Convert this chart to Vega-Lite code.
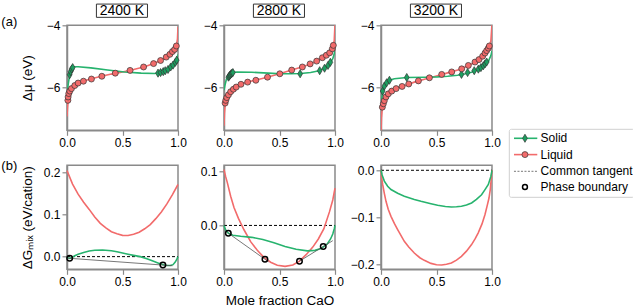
{
 "$schema": "https://vega.github.io/schema/vega-lite/v6.json",
 "background": "white",
 "padding": {"left": 0, "top": 2.3, "right": 0, "bottom": 0},
 "bounds": "flush",
 "columns": 3,
 "spacing": {"row": 35, "column": 46},
 "concat": [
  {
   "width": 111, "height": 105,
   "layer": [
    {"data": {"values": [{}]}, "mark": {"type": "rect", "filled": false, "stroke": "#333333", "strokeWidth": 1, "clip": false}, "encoding": {"x": {"datum": 0.265, "type": "quantitative"}, "x2": {"datum": 0.725}, "y": {"datum": -3.742, "type": "quantitative"}, "y2": {"datum": -3.313}}},
    {"data": {"values": [{}]}, "mark": {"type": "text", "text": "2400 K", "fontSize": 14, "baseline": "middle", "align": "center", "clip": false}, "encoding": {"x": {"datum": 0.495, "type": "quantitative"}, "y": {"datum": -3.526, "type": "quantitative"}}},
    {"data": {"values": [{}]}, "mark": {"type": "text", "text": "(a)", "fontSize": 13, "baseline": "middle", "align": "center", "clip": false}, "encoding": {"x": {"datum": -0.52, "type": "quantitative"}, "y": {"datum": -3.9, "type": "quantitative"}}},
    {"data": {"values": [{"x":0,"y":-6.95},{"x":0.004,"y":-6.7},{"x":0.01,"y":-6.45},{"x":0.02,"y":-6.22},{"x":0.035,"y":-6.08},{"x":0.06,"y":-5.97},{"x":0.1,"y":-5.88},{"x":0.15,"y":-5.8},{"x":0.22,"y":-5.73},{"x":0.3,"y":-5.66},{"x":0.4,"y":-5.58},{"x":0.5,"y":-5.51},{"x":0.6,"y":-5.43},{"x":0.7,"y":-5.34},{"x":0.78,"y":-5.24},{"x":0.85,"y":-5.13},{"x":0.9,"y":-5.03},{"x":0.94,"y":-4.91},{"x":0.97,"y":-4.79},{"x":0.985,"y":-4.66},{"x":0.995,"y":-4.45},{"x":1,"y":-4.05}]},
     "mark": {"type": "line", "color": "#f26b6b", "strokeWidth": 1.6, "clip": true},
     "encoding": {"x": {"field": "x", "type": "quantitative", "scale": {"domain": [0, 1], "nice": false, "zero": false}, "axis": {"values": [0, 0.5, 1], "format": ".1f", "title": null}},
      "y": {"field": "y", "type": "quantitative", "scale": {"domain": [-7.4, -4], "nice": false, "zero": false}, "axis": {"values": [-6, -4], "format": "d", "title": "Δμ (eV)", "titleX": -40, "titleY": 52.5, "titleAngle": 270, "titleAlign": "center", "titleBaseline": "middle"}}}},
    {"data": {"values": [{"x":0,"y":-6.25},{"x":0.008,"y":-5.98},{"x":0.018,"y":-5.74},{"x":0.03,"y":-5.52},{"x":0.045,"y":-5.4},{"x":0.065,"y":-5.34},{"x":0.1,"y":-5.34},{"x":0.215,"y":-5.38},{"x":0.366,"y":-5.45},{"x":0.517,"y":-5.51},{"x":0.668,"y":-5.55},{"x":0.789,"y":-5.56},{"x":0.849,"y":-5.52},{"x":0.909,"y":-5.43},{"x":0.955,"y":-5.29},{"x":0.985,"y":-5.15},{"x":1,"y":-4.94}]},
     "mark": {"type": "line", "color": "#27b36e", "strokeWidth": 1.6, "clip": true},
     "encoding": {"x": {"field": "x", "type": "quantitative"}, "y": {"field": "y", "type": "quantitative"}}},
    {"data": {"values": [{"x":0.024,"y":-5.6},{"x":0.033,"y":-5.5},{"x":0.042,"y":-5.42},{"x":0.051,"y":-5.37},{"x":0.82,"y":-5.55},{"x":0.843,"y":-5.53},{"x":0.867,"y":-5.5},{"x":0.885,"y":-5.47},{"x":0.91,"y":-5.43},{"x":0.934,"y":-5.35},{"x":0.955,"y":-5.29},{"x":0.976,"y":-5.2},{"x":0.988,"y":-5.13}]},
     "mark": {"type": "point", "shape": "M0,-1.35L0.8,0L0,1.35L-0.8,0Z", "filled": true, "fill": "#1d9e60", "stroke": "#333333", "strokeWidth": 0.7, "size": 36, "opacity": 1},
     "encoding": {"x": {"field": "x", "type": "quantitative"}, "y": {"field": "y", "type": "quantitative"}}},
    {"data": {"values": [{"x":0.008,"y":-6.43},{"x":0.01,"y":-6.32},{"x":0.016,"y":-6.21},{"x":0.025,"y":-6.13},{"x":0.04,"y":-6.05},{"x":0.07,"y":-5.95},{"x":0.1,"y":-5.87},{"x":0.148,"y":-5.81},{"x":0.22,"y":-5.74},{"x":0.314,"y":-5.65},{"x":0.435,"y":-5.55},{"x":0.568,"y":-5.46},{"x":0.69,"y":-5.35},{"x":0.78,"y":-5.24},{"x":0.843,"y":-5.14},{"x":0.894,"y":-5.03},{"x":0.927,"y":-4.94},{"x":0.95,"y":-4.85},{"x":0.97,"y":-4.78},{"x":0.985,"y":-4.67}]},
     "mark": {"type": "point", "shape": "circle", "filled": true, "fill": "#f26b6b", "stroke": "#333333", "strokeWidth": 0.7, "size": 36, "opacity": 1},
     "encoding": {"x": {"field": "x", "type": "quantitative"}, "y": {"field": "y", "type": "quantitative"}}}
   ]
  },
  {
   "width": 111, "height": 105,
   "layer": [
    {"data": {"values": [{}]}, "mark": {"type": "rect", "filled": false, "stroke": "#333333", "strokeWidth": 1, "clip": false}, "encoding": {"x": {"datum": 0.265, "type": "quantitative"}, "x2": {"datum": 0.725}, "y": {"datum": -3.742, "type": "quantitative"}, "y2": {"datum": -3.313}}},
    {"data": {"values": [{}]}, "mark": {"type": "text", "text": "2800 K", "fontSize": 14, "baseline": "middle", "align": "center", "clip": false}, "encoding": {"x": {"datum": 0.495, "type": "quantitative"}, "y": {"datum": -3.526, "type": "quantitative"}}},
    {"data": {"values": [{"x":0,"y":-7.25},{"x":0.004,"y":-6.85},{"x":0.01,"y":-6.6},{"x":0.02,"y":-6.42},{"x":0.035,"y":-6.3},{"x":0.055,"y":-6.17},{"x":0.08,"y":-6.08},{"x":0.11,"y":-6.0},{"x":0.15,"y":-5.92},{"x":0.21,"y":-5.84},{"x":0.29,"y":-5.77},{"x":0.39,"y":-5.68},{"x":0.5,"y":-5.57},{"x":0.61,"y":-5.45},{"x":0.7,"y":-5.35},{"x":0.78,"y":-5.25},{"x":0.84,"y":-5.15},{"x":0.89,"y":-5.05},{"x":0.93,"y":-4.95},{"x":0.96,"y":-4.85},{"x":0.98,"y":-4.73},{"x":0.993,"y":-4.5},{"x":1,"y":-3.95}]},
     "mark": {"type": "line", "color": "#f26b6b", "strokeWidth": 1.6, "clip": true},
     "encoding": {"x": {"field": "x", "type": "quantitative", "scale": {"domain": [0, 1], "nice": false, "zero": false}, "axis": {"values": [0, 0.5, 1], "format": ".1f", "title": null}},
      "y": {"field": "y", "type": "quantitative", "scale": {"domain": [-7.4, -4], "nice": false, "zero": false}, "axis": {"values": [-6, -4], "format": "d", "title": null}}}},
    {"data": {"values": [{"x":0,"y":-6.1},{"x":0.008,"y":-5.95},{"x":0.02,"y":-5.77},{"x":0.035,"y":-5.65},{"x":0.055,"y":-5.57},{"x":0.08,"y":-5.52},{"x":0.12,"y":-5.51},{"x":0.25,"y":-5.52},{"x":0.4,"y":-5.55},{"x":0.51,"y":-5.57},{"x":0.6,"y":-5.57},{"x":0.69,"y":-5.56},{"x":0.78,"y":-5.53},{"x":0.846,"y":-5.48},{"x":0.9,"y":-5.4},{"x":0.937,"y":-5.31},{"x":0.96,"y":-5.21},{"x":0.98,"y":-5.08},{"x":0.995,"y":-4.9},{"x":1,"y":-4.78}]},
     "mark": {"type": "line", "color": "#27b36e", "strokeWidth": 1.6, "clip": true},
     "encoding": {"x": {"field": "x", "type": "quantitative"}, "y": {"field": "y", "type": "quantitative"}}},
    {"data": {"values": [{"x":0.04,"y":-5.68},{"x":0.046,"y":-5.65},{"x":0.052,"y":-5.62},{"x":0.058,"y":-5.6},{"x":0.065,"y":-5.57},{"x":0.072,"y":-5.55},{"x":0.08,"y":-5.53},{"x":0.686,"y":-5.57},{"x":0.862,"y":-5.47},{"x":0.906,"y":-5.39},{"x":0.937,"y":-5.3},{"x":0.958,"y":-5.2}]},
     "mark": {"type": "point", "shape": "M0,-1.35L0.8,0L0,1.35L-0.8,0Z", "filled": true, "fill": "#1d9e60", "stroke": "#333333", "strokeWidth": 0.7, "size": 36, "opacity": 1},
     "encoding": {"x": {"field": "x", "type": "quantitative"}, "y": {"field": "y", "type": "quantitative"}}},
    {"data": {"values": [{"x":0.01,"y":-6.52},{"x":0.016,"y":-6.43},{"x":0.025,"y":-6.34},{"x":0.04,"y":-6.25},{"x":0.06,"y":-6.15},{"x":0.085,"y":-6.07},{"x":0.11,"y":-6.0},{"x":0.153,"y":-5.91},{"x":0.213,"y":-5.84},{"x":0.287,"y":-5.78},{"x":0.392,"y":-5.68},{"x":0.503,"y":-5.57},{"x":0.61,"y":-5.45},{"x":0.706,"y":-5.35},{"x":0.776,"y":-5.25},{"x":0.835,"y":-5.16},{"x":0.886,"y":-5.05},{"x":0.922,"y":-4.97},{"x":0.952,"y":-4.89},{"x":0.976,"y":-4.76},{"x":0.985,"y":-4.65}]},
     "mark": {"type": "point", "shape": "circle", "filled": true, "fill": "#f26b6b", "stroke": "#333333", "strokeWidth": 0.7, "size": 36, "opacity": 1},
     "encoding": {"x": {"field": "x", "type": "quantitative"}, "y": {"field": "y", "type": "quantitative"}}}
   ]
  },
  {
   "width": 111, "height": 105,
   "layer": [
    {"data": {"values": [{}]}, "mark": {"type": "rect", "filled": false, "stroke": "#333333", "strokeWidth": 1, "clip": false}, "encoding": {"x": {"datum": 0.265, "type": "quantitative"}, "x2": {"datum": 0.725}, "y": {"datum": -3.742, "type": "quantitative"}, "y2": {"datum": -3.313}}},
    {"data": {"values": [{}]}, "mark": {"type": "text", "text": "3200 K", "fontSize": 14, "baseline": "middle", "align": "center", "clip": false}, "encoding": {"x": {"datum": 0.495, "type": "quantitative"}, "y": {"datum": -3.526, "type": "quantitative"}}},
    {"data": {"values": [{"x":0,"y":-7.5},{"x":0.004,"y":-7.0},{"x":0.01,"y":-6.76},{"x":0.02,"y":-6.55},{"x":0.035,"y":-6.38},{"x":0.06,"y":-6.24},{"x":0.1,"y":-6.12},{"x":0.15,"y":-6.03},{"x":0.2,"y":-5.97},{"x":0.3,"y":-5.84},{"x":0.4,"y":-5.74},{"x":0.5,"y":-5.64},{"x":0.6,"y":-5.54},{"x":0.7,"y":-5.44},{"x":0.78,"y":-5.32},{"x":0.85,"y":-5.19},{"x":0.9,"y":-5.07},{"x":0.94,"y":-4.91},{"x":0.97,"y":-4.74},{"x":0.99,"y":-4.5},{"x":1,"y":-3.95}]},
     "mark": {"type": "line", "color": "#f26b6b", "strokeWidth": 1.6, "clip": true},
     "encoding": {"x": {"field": "x", "type": "quantitative", "scale": {"domain": [0, 1], "nice": false, "zero": false}, "axis": {"values": [0, 0.5, 1], "format": ".1f", "title": null}},
      "y": {"field": "y", "type": "quantitative", "scale": {"domain": [-7.4, -4], "nice": false, "zero": false}, "axis": {"values": [-6, -4], "format": "d", "title": null}}}},
    {"data": {"values": [{"x":0,"y":-6.75},{"x":0.005,"y":-6.42},{"x":0.015,"y":-6.15},{"x":0.03,"y":-5.97},{"x":0.05,"y":-5.86},{"x":0.076,"y":-5.78},{"x":0.12,"y":-5.73},{"x":0.233,"y":-5.69},{"x":0.4,"y":-5.68},{"x":0.51,"y":-5.67},{"x":0.6,"y":-5.65},{"x":0.69,"y":-5.62},{"x":0.76,"y":-5.57},{"x":0.816,"y":-5.52},{"x":0.87,"y":-5.44},{"x":0.906,"y":-5.37},{"x":0.94,"y":-5.27},{"x":0.967,"y":-5.17},{"x":0.99,"y":-4.98},{"x":1,"y":-4.83}]},
     "mark": {"type": "line", "color": "#27b36e", "strokeWidth": 1.6, "clip": true},
     "encoding": {"x": {"field": "x", "type": "quantitative"}, "y": {"field": "y", "type": "quantitative"}}},
    {"data": {"values": [{"x":0.015,"y":-6.13},{"x":0.03,"y":-5.97},{"x":0.051,"y":-5.86},{"x":0.076,"y":-5.78},{"x":0.232,"y":-5.69},{"x":0.725,"y":-5.59},{"x":0.78,"y":-5.53},{"x":0.84,"y":-5.47},{"x":0.877,"y":-5.42},{"x":0.9,"y":-5.37},{"x":0.922,"y":-5.31},{"x":0.937,"y":-5.25},{"x":0.952,"y":-5.19}]},
     "mark": {"type": "point", "shape": "M0,-1.35L0.8,0L0,1.35L-0.8,0Z", "filled": true, "fill": "#1d9e60", "stroke": "#333333", "strokeWidth": 0.7, "size": 36, "opacity": 1},
     "encoding": {"x": {"field": "x", "type": "quantitative"}, "y": {"field": "y", "type": "quantitative"}}},
    {"data": {"values": [{"x":0.012,"y":-6.65},{"x":0.021,"y":-6.54},{"x":0.03,"y":-6.44},{"x":0.045,"y":-6.32},{"x":0.066,"y":-6.22},{"x":0.097,"y":-6.13},{"x":0.136,"y":-6.05},{"x":0.19,"y":-5.98},{"x":0.25,"y":-5.9},{"x":0.337,"y":-5.8},{"x":0.436,"y":-5.7},{"x":0.547,"y":-5.59},{"x":0.637,"y":-5.51},{"x":0.727,"y":-5.41},{"x":0.787,"y":-5.3},{"x":0.847,"y":-5.19},{"x":0.883,"y":-5.11},{"x":0.916,"y":-5.0},{"x":0.937,"y":-4.9},{"x":0.952,"y":-4.82},{"x":0.967,"y":-4.74},{"x":0.976,"y":-4.67}]},
     "mark": {"type": "point", "shape": "circle", "filled": true, "fill": "#f26b6b", "stroke": "#333333", "strokeWidth": 0.7, "size": 36, "opacity": 1},
     "encoding": {"x": {"field": "x", "type": "quantitative"}, "y": {"field": "y", "type": "quantitative"}}},
    {"data": {"values": [{}]}, "mark": {"type": "rect", "fill": "white", "stroke": "#d0d0d0", "strokeWidth": 1, "cornerRadius": 2, "clip": false}, "encoding": {"x": {"datum": 1.156, "type": "quantitative"}, "x2": {"datum": 2.282}, "y": {"datum": -7.368, "type": "quantitative"}, "y2": {"datum": -9.57}}},
    {"data": {"values": [{}]}, "mark": {"type": "rule", "color": "#27b36e", "strokeWidth": 1.6, "clip": false}, "encoding": {"x": {"datum": 1.198, "type": "quantitative"}, "x2": {"datum": 1.408}, "y": {"datum": -7.659, "type": "quantitative"}}},
    {"data": {"values": [{}]}, "mark": {"type": "rule", "color": "#f26b6b", "strokeWidth": 1.6, "clip": false}, "encoding": {"x": {"datum": 1.198, "type": "quantitative"}, "x2": {"datum": 1.408}, "y": {"datum": -8.187, "type": "quantitative"}}},
    {"data": {"values": [{}]}, "mark": {"type": "rule", "color": "#555555", "strokeWidth": 0.8, "strokeDash": [2, 1.5], "clip": false}, "encoding": {"x": {"datum": 1.198, "type": "quantitative"}, "x2": {"datum": 1.408}, "y": {"datum": -8.728, "type": "quantitative"}}},
    {"data": {"values": [{}]}, "mark": {"type": "point", "shape": "M0,-1.35L0.8,0L0,1.35L-0.8,0Z", "filled": true, "fill": "#1d9e60", "stroke": "#333333", "strokeWidth": 0.7, "size": 36, "opacity": 1, "clip": false}, "encoding": {"x": {"datum": 1.297, "type": "quantitative"}, "y": {"datum": -7.659, "type": "quantitative"}}},
    {"data": {"values": [{}]}, "mark": {"type": "point", "shape": "circle", "filled": true, "fill": "#f26b6b", "stroke": "#333333", "strokeWidth": 0.7, "size": 36, "opacity": 1, "clip": false}, "encoding": {"x": {"datum": 1.297, "type": "quantitative"}, "y": {"datum": -8.187, "type": "quantitative"}}},
    {"data": {"values": [{}]}, "mark": {"type": "point", "shape": "circle", "filled": false, "stroke": "#000000", "strokeWidth": 1.5, "size": 24, "opacity": 1, "clip": false}, "encoding": {"x": {"datum": 1.297, "type": "quantitative"}, "y": {"datum": -9.236, "type": "quantitative"}}},
    {"data": {"values": [{}]}, "mark": {"type": "text", "text": "Solid", "fontSize": 12, "align": "left", "baseline": "middle", "clip": false}, "encoding": {"x": {"datum": 1.438, "type": "quantitative"}, "y": {"datum": -7.659, "type": "quantitative"}}},
    {"data": {"values": [{}]}, "mark": {"type": "text", "text": "Liquid", "fontSize": 12, "align": "left", "baseline": "middle", "clip": false}, "encoding": {"x": {"datum": 1.438, "type": "quantitative"}, "y": {"datum": -8.187, "type": "quantitative"}}},
    {"data": {"values": [{}]}, "mark": {"type": "text", "text": "Common tangent", "fontSize": 12, "align": "left", "baseline": "middle", "clip": false}, "encoding": {"x": {"datum": 1.438, "type": "quantitative"}, "y": {"datum": -8.728, "type": "quantitative"}}},
    {"data": {"values": [{}]}, "mark": {"type": "text", "text": "Phase boundary", "fontSize": 12, "align": "left", "baseline": "middle", "clip": false}, "encoding": {"x": {"datum": 1.438, "type": "quantitative"}, "y": {"datum": -9.236, "type": "quantitative"}}}
   ]
  },
  {
   "width": 111, "height": 104,
   "layer": [
    {"data": {"values": [{}]}, "mark": {"type": "text", "text": "(b)", "fontSize": 13, "baseline": "middle", "align": "center", "clip": false}, "encoding": {"x": {"datum": -0.52, "type": "quantitative"}, "y": {"datum": 0.2144, "type": "quantitative"}}},
    {"data": {"values": [{}]}, "mark": {"type": "rule", "color": "#000000", "strokeWidth": 1, "strokeDash": [3, 2]}, "encoding": {"x": {"datum": 0, "type": "quantitative"}, "x2": {"datum": 1}, "y": {"datum": 0, "type": "quantitative"}}},
    {"data": {"values": [{"x":0,"y":0.204},{"x":0.05,"y":0.172},{"x":0.1,"y":0.148},{"x":0.15,"y":0.129},{"x":0.2,"y":0.112},{"x":0.25,"y":0.094},{"x":0.3,"y":0.079},{"x":0.35,"y":0.068},{"x":0.4,"y":0.059},{"x":0.45,"y":0.054},{"x":0.5,"y":0.0505},{"x":0.55,"y":0.05},{"x":0.6,"y":0.053},{"x":0.65,"y":0.058},{"x":0.7,"y":0.066},{"x":0.75,"y":0.076},{"x":0.8,"y":0.09},{"x":0.85,"y":0.106},{"x":0.9,"y":0.125},{"x":0.95,"y":0.147},{"x":1,"y":0.171}]},
     "mark": {"type": "line", "color": "#f26b6b", "strokeWidth": 1.6},
     "encoding": {"x": {"field": "x", "type": "quantitative", "scale": {"domain": [0, 1], "nice": false, "zero": false}, "axis": {"values": [0, 0.5, 1], "format": ".1f", "title": null}},
      "y": {"field": "y", "type": "quantitative", "scale": {"domain": [-0.03, 0.2165], "nice": false, "zero": false}, "axis": {"values": [0, 0.1, 0.2], "format": ".1f", "title": "ΔGₘᵢₓ (eV/cation)", "titleX": -40, "titleY": 52, "titleAngle": 270, "titleAlign": "center", "titleBaseline": "middle"}}}},
    {"data": {"values": [{"x":0,"y":0},{"x":0.01,"y":-0.003},{"x":0.025,"y":-0.004},{"x":0.045,"y":-0.002},{"x":0.07,"y":0.002},{"x":0.1,"y":0.0055},{"x":0.15,"y":0.01},{"x":0.2,"y":0.0135},{"x":0.25,"y":0.0152},{"x":0.32,"y":0.0158},{"x":0.4,"y":0.014},{"x":0.45,"y":0.0115},{"x":0.5,"y":0.0085},{"x":0.55,"y":0.0058},{"x":0.6,"y":0.003},{"x":0.66,"y":0},{"x":0.72,"y":-0.005},{"x":0.78,"y":-0.011},{"x":0.83,"y":-0.016},{"x":0.87,"y":-0.019},{"x":0.9,"y":-0.021},{"x":0.93,"y":-0.021},{"x":0.955,"y":-0.019},{"x":0.975,"y":-0.013},{"x":0.99,"y":-0.006},{"x":1,"y":0}]},
     "mark": {"type": "line", "color": "#27b36e", "strokeWidth": 1.6},
     "encoding": {"x": {"field": "x", "type": "quantitative"}, "y": {"field": "y", "type": "quantitative"}}},
    {"data": {"values": [{"x":0.01,"y":-0.0037,"seg":"a"},{"x":0.95,"y":-0.0216,"seg":"a"}]},
     "mark": {"type": "line", "color": "#555555", "strokeWidth": 0.8},
     "encoding": {"x": {"field": "x", "type": "quantitative"}, "y": {"field": "y", "type": "quantitative"}, "detail": {"field": "seg"}}},
    {"data": {"values": [{"x":0.024,"y":-0.004},{"x":0.864,"y":-0.02}]},
     "mark": {"type": "point", "shape": "circle", "filled": false, "stroke": "#000000", "strokeWidth": 1.5, "size": 30, "opacity": 1},
     "encoding": {"x": {"field": "x", "type": "quantitative"}, "y": {"field": "y", "type": "quantitative"}}}
   ]
  },
  {
   "width": 111, "height": 104,
   "layer": [
    {"data": {"values": [{}]}, "mark": {"type": "rule", "color": "#000000", "strokeWidth": 1, "strokeDash": [3, 2]}, "encoding": {"x": {"datum": 0, "type": "quantitative"}, "x2": {"datum": 1}, "y": {"datum": 0, "type": "quantitative"}}},
    {"data": {"values": [{"x":0,"y":0.103},{"x":0.015,"y":0.09},{"x":0.03,"y":0.079},{"x":0.06,"y":0.054},{"x":0.09,"y":0.033},{"x":0.13,"y":0.013},{"x":0.18,"y":-0.008},{"x":0.24,"y":-0.03},{"x":0.3,"y":-0.046},{"x":0.36,"y":-0.059},{"x":0.42,"y":-0.068},{"x":0.48,"y":-0.0735},{"x":0.55,"y":-0.0755},{"x":0.62,"y":-0.073},{"x":0.68,"y":-0.066},{"x":0.74,"y":-0.054},{"x":0.8,"y":-0.04},{"x":0.85,"y":-0.025},{"x":0.9,"y":-0.006},{"x":0.95,"y":0.025},{"x":0.98,"y":0.047},{"x":1,"y":0.069}]},
     "mark": {"type": "line", "color": "#f26b6b", "strokeWidth": 1.6},
     "encoding": {"x": {"field": "x", "type": "quantitative", "scale": {"domain": [0, 1], "nice": false, "zero": false}, "axis": {"values": [0, 0.5, 1], "format": ".1f", "title": "Mole fraction CaO", "titlePadding": 6}},
      "y": {"field": "y", "type": "quantitative", "scale": {"domain": [-0.081, 0.111], "nice": false, "zero": false}, "axis": {"values": [0, 0.1], "format": ".1f", "title": null}}}},
    {"data": {"values": [{"x":0,"y":0},{"x":0.01,"y":-0.006},{"x":0.02,"y":-0.01},{"x":0.04,"y":-0.0145},{"x":0.08,"y":-0.018},{"x":0.15,"y":-0.02},{"x":0.25,"y":-0.022},{"x":0.35,"y":-0.026},{"x":0.45,"y":-0.032},{"x":0.55,"y":-0.039},{"x":0.65,"y":-0.044},{"x":0.75,"y":-0.047},{"x":0.82,"y":-0.046},{"x":0.88,"y":-0.042},{"x":0.93,"y":-0.034},{"x":0.96,"y":-0.025},{"x":0.98,"y":-0.016},{"x":0.995,"y":-0.005},{"x":1,"y":0}]},
     "mark": {"type": "line", "color": "#27b36e", "strokeWidth": 1.6},
     "encoding": {"x": {"field": "x", "type": "quantitative"}, "y": {"field": "y", "type": "quantitative"}}},
    {"data": {"values": [{"x":0.039,"y":-0.0144,"seg":"a"},{"x":0.4,"y":-0.067,"seg":"a"},{"x":0.68,"y":-0.066,"seg":"b"},{"x":0.98,"y":-0.0281,"seg":"b"}]},
     "mark": {"type": "line", "color": "#555555", "strokeWidth": 0.8},
     "encoding": {"x": {"field": "x", "type": "quantitative"}, "y": {"field": "y", "type": "quantitative"}, "detail": {"field": "seg"}}},
    {"data": {"values": [{"x":0.039,"y":-0.0144},{"x":0.369,"y":-0.0625},{"x":0.68,"y":-0.066},{"x":0.894,"y":-0.039}]},
     "mark": {"type": "point", "shape": "circle", "filled": false, "stroke": "#000000", "strokeWidth": 1.5, "size": 30, "opacity": 1},
     "encoding": {"x": {"field": "x", "type": "quantitative"}, "y": {"field": "y", "type": "quantitative"}}}
   ]
  },
  {
   "width": 111, "height": 104,
   "layer": [
    {"data": {"values": [{}]}, "mark": {"type": "rule", "color": "#000000", "strokeWidth": 1, "strokeDash": [3, 2]}, "encoding": {"x": {"datum": 0, "type": "quantitative"}, "x2": {"datum": 1}, "y": {"datum": 0, "type": "quantitative"}}},
    {"data": {"values": [{"x":0,"y":0},{"x":0.005,"y":-0.015},{"x":0.015,"y":-0.03},{"x":0.03,"y":-0.049},{"x":0.045,"y":-0.066},{"x":0.065,"y":-0.083},{"x":0.09,"y":-0.098},{"x":0.12,"y":-0.113},{"x":0.15,"y":-0.126},{"x":0.21,"y":-0.151},{"x":0.25,"y":-0.163},{"x":0.3,"y":-0.176},{"x":0.35,"y":-0.186},{"x":0.39,"y":-0.1915},{"x":0.45,"y":-0.198},{"x":0.5,"y":-0.201},{"x":0.547,"y":-0.2015},{"x":0.59,"y":-0.2},{"x":0.634,"y":-0.197},{"x":0.68,"y":-0.191},{"x":0.725,"y":-0.183},{"x":0.77,"y":-0.172},{"x":0.816,"y":-0.158},{"x":0.85,"y":-0.145},{"x":0.876,"y":-0.133},{"x":0.91,"y":-0.114},{"x":0.937,"y":-0.094},{"x":0.96,"y":-0.072},{"x":0.973,"y":-0.059},{"x":0.985,"y":-0.04},{"x":1,"y":0}]},
     "mark": {"type": "line", "color": "#f26b6b", "strokeWidth": 1.6},
     "encoding": {"x": {"field": "x", "type": "quantitative", "scale": {"domain": [0, 1], "nice": false, "zero": false}, "axis": {"values": [0, 0.5, 1], "format": ".1f", "title": null}},
      "y": {"field": "y", "type": "quantitative", "scale": {"domain": [-0.2106, 0.0106], "nice": false, "zero": false}, "axis": {"values": [-0.2, -0.1, 0], "format": ".1f", "title": null}}}},
    {"data": {"values": [{"x":0,"y":0},{"x":0.01,"y":-0.01},{"x":0.03,"y":-0.023},{"x":0.06,"y":-0.034},{"x":0.09,"y":-0.041},{"x":0.15,"y":-0.049},{"x":0.21,"y":-0.055},{"x":0.3,"y":-0.062},{"x":0.36,"y":-0.066},{"x":0.45,"y":-0.071},{"x":0.51,"y":-0.0745},{"x":0.58,"y":-0.077},{"x":0.634,"y":-0.078},{"x":0.68,"y":-0.0775},{"x":0.725,"y":-0.0766},{"x":0.77,"y":-0.074},{"x":0.816,"y":-0.0695},{"x":0.86,"y":-0.062},{"x":0.906,"y":-0.052},{"x":0.94,"y":-0.04},{"x":0.967,"y":-0.03},{"x":0.99,"y":-0.013},{"x":1,"y":0}]},
     "mark": {"type": "line", "color": "#27b36e", "strokeWidth": 1.6},
     "encoding": {"x": {"field": "x", "type": "quantitative"}, "y": {"field": "y", "type": "quantitative"}}}
   ]
  }
 ],
 "config": {
  "font": "Liberation Sans",
  "view": {"stroke": "#8a8a8a", "strokeWidth": 1.5},
  "axis": {"domainColor": "#8a8a8a", "domainWidth": 1.5, "tickColor": "#8a8a8a", "tickSize": 5, "tickWidth": 1.2, "labelFontSize": 12, "labelFont": "Liberation Sans", "labelColor": "#000000", "labelPadding": 2, "grid": false, "labelFlush": false, "labelOverlap": false, "titleFontSize": 13.5, "titleFont": "Liberation Sans", "titleFontWeight": "normal", "titleColor": "#000000"},
  "text": {"font": "Liberation Sans", "color": "#000000"}
 }
}
